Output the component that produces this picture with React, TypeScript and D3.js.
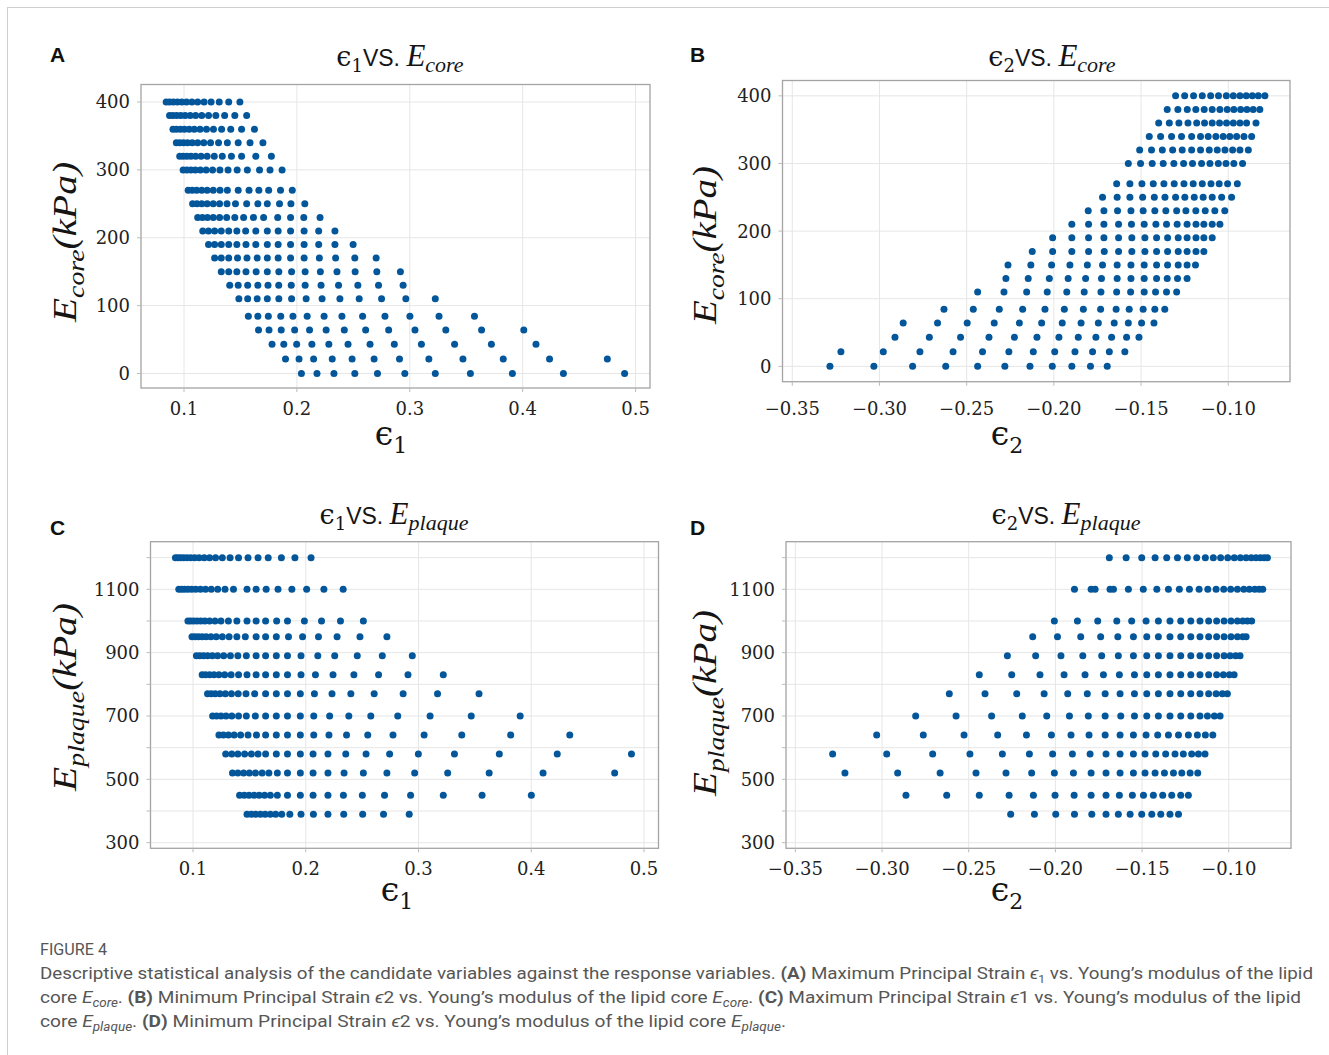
import React from 'react';
import * as d3 from 'd3';

// ---------------- DATA ----------------
const eCoreLevels = [400, 380, 360, 340, 320, 300, 270, 250, 230, 210, 190, 170, 150, 130, 110, 84.5, 64, 43, 21.5, 0];

const eps1ByCore: number[][] = [
  [0.0842, 0.0872, 0.0905, 0.0941, 0.0980, 0.1022, 0.1070, 0.1121, 0.1178, 0.1240, 0.1312, 0.1396, 0.1495],
  [0.0872, 0.0902, 0.0935, 0.0971, 0.1010, 0.1055, 0.1103, 0.1157, 0.1217, 0.1282, 0.1360, 0.1450, 0.1555],
  [0.0902, 0.0932, 0.0968, 0.1004, 0.1046, 0.1091, 0.1142, 0.1199, 0.1261, 0.1333, 0.1414, 0.1510, 0.1624],
  [0.0932, 0.0962, 0.0995, 0.1031, 0.1073, 0.1121, 0.1175, 0.1235, 0.1306, 0.1384, 0.1480, 0.1585, 0.1699],
  [0.0962, 0.0992, 0.1025, 0.1061, 0.1103, 0.1151, 0.1205, 0.1268, 0.1339, 0.1420, 0.1510, 0.1636, 0.1774],
  [0.0992, 0.1025, 0.1061, 0.1100, 0.1145, 0.1196, 0.1253, 0.1318, 0.1390, 0.1471, 0.1561, 0.1669, 0.1762, 0.1869],
  [0.1037, 0.1073, 0.1112, 0.1157, 0.1205, 0.1259, 0.1319, 0.1384, 0.1480, 0.1576, 0.1663, 0.1750, 0.1855, 0.1959],
  [0.1076, 0.1115, 0.1157, 0.1205, 0.1259, 0.1315, 0.1381, 0.1456, 0.1555, 0.1654, 0.1738, 0.1846, 0.1947, 0.2070],
  [0.1121, 0.1163, 0.1208, 0.1259, 0.1315, 0.1378, 0.1450, 0.1528, 0.1615, 0.1705, 0.1830, 0.1944, 0.2061, 0.2205],
  [0.1166, 0.1217, 0.1271, 0.1330, 0.1396, 0.1468, 0.1546, 0.1636, 0.1738, 0.1834, 0.1944, 0.2064, 0.2193, 0.2337],
  [0.1217, 0.1271, 0.1330, 0.1396, 0.1468, 0.1549, 0.1636, 0.1738, 0.1834, 0.1944, 0.2064, 0.2193, 0.2337, 0.2498],
  [0.1271, 0.1330, 0.1396, 0.1474, 0.1558, 0.1648, 0.1738, 0.1834, 0.1944, 0.2064, 0.2199, 0.2343, 0.2513, 0.2702],
  [0.1330, 0.1396, 0.1468, 0.1549, 0.1639, 0.1738, 0.1840, 0.1953, 0.2073, 0.2208, 0.2355, 0.2516, 0.2708, 0.2917],
  [0.1405, 0.1480, 0.1564, 0.1654, 0.1744, 0.1839, 0.1950, 0.2073, 0.2214, 0.2369, 0.2540, 0.2723, 0.2941],
  [0.1486, 0.1564, 0.1648, 0.1738, 0.1840, 0.1953, 0.2082, 0.2223, 0.2381, 0.2552, 0.2750, 0.2965, 0.3226],
  [0.1570, 0.1654, 0.1747, 0.1857, 0.1965, 0.2091, 0.2241, 0.2399, 0.2582, 0.2780, 0.3001, 0.3259, 0.3573],
  [0.1660, 0.1753, 0.1861, 0.1980, 0.2112, 0.2259, 0.2420, 0.2609, 0.2813, 0.3046, 0.3319, 0.3636, 0.4010],
  [0.1780, 0.1884, 0.1998, 0.2133, 0.2283, 0.2453, 0.2648, 0.2863, 0.3103, 0.3397, 0.3723, 0.4118],
  [0.1899, 0.2019, 0.2148, 0.2313, 0.2489, 0.2684, 0.2909, 0.3169, 0.3471, 0.3828, 0.4238, 0.4750],
  [0.2040, 0.2178, 0.2328, 0.2513, 0.2714, 0.2956, 0.3226, 0.3537, 0.3909, 0.4361, 0.4903],
];

const eps2ByCore: number[][] = [
  [-0.1302, -0.1250, -0.1199, -0.1149, -0.1101, -0.1056, -0.1011, -0.0971, -0.0933, -0.0897, -0.0862, -0.0828, -0.0790],
  [-0.1350, -0.1289, -0.1235, -0.1186, -0.1138, -0.1092, -0.1048, -0.1006, -0.0968, -0.0929, -0.0893, -0.0857, -0.0819],
  [-0.1399, -0.1338, -0.1283, -0.1231, -0.1181, -0.1136, -0.1092, -0.1050, -0.1010, -0.0971, -0.0933, -0.0895, -0.0841],
  [-0.1453, -0.1388, -0.1325, -0.1268, -0.1210, -0.1159, -0.1115, -0.1071, -0.1029, -0.0991, -0.0952, -0.0910, -0.0866],
  [-0.1508, -0.1440, -0.1378, -0.1319, -0.1264, -0.1210, -0.1159, -0.1109, -0.1063, -0.1019, -0.0975, -0.0933, -0.0885],
  [-0.1573, -0.1503, -0.1436, -0.1373, -0.1312, -0.1256, -0.1205, -0.1153, -0.1105, -0.1057, -0.1013, -0.0968, -0.0918],
  [-0.1640, -0.1564, -0.1495, -0.1430, -0.1369, -0.1310, -0.1254, -0.1201, -0.1149, -0.1099, -0.1052, -0.1004, -0.0948],
  [-0.1721, -0.1637, -0.1564, -0.1491, -0.1424, -0.1363, -0.1302, -0.1249, -0.1195, -0.1144, -0.1092, -0.1038, -0.0981],
  [-0.1803, -0.1713, -0.1635, -0.1558, -0.1488, -0.1421, -0.1358, -0.1296, -0.1243, -0.1186, -0.1132, -0.1077, -0.1020],
  [-0.1897, -0.1801, -0.1713, -0.1629, -0.1555, -0.1482, -0.1415, -0.1354, -0.1293, -0.1236, -0.1185, -0.1140, -0.1092, -0.1048],
  [-0.2007, -0.1897, -0.1801, -0.1713, -0.1629, -0.1553, -0.1478, -0.1411, -0.1348, -0.1287, -0.1236, -0.1185, -0.1140, -0.1092],
  [-0.2124, -0.2007, -0.1897, -0.1801, -0.1711, -0.1629, -0.1553, -0.1478, -0.1411, -0.1348, -0.1287, -0.1236, -0.1185, -0.1140],
  [-0.2263, -0.2132, -0.2013, -0.1908, -0.1808, -0.1721, -0.1637, -0.1558, -0.1482, -0.1411, -0.1348, -0.1287, -0.1236, -0.1188],
  [-0.2275, -0.2147, -0.2026, -0.1918, -0.1818, -0.1727, -0.1637, -0.1558, -0.1482, -0.1411, -0.1350, -0.1291, -0.1236],
  [-0.2437, -0.2286, -0.2156, -0.2038, -0.1926, -0.1826, -0.1730, -0.1640, -0.1560, -0.1482, -0.1417, -0.1354, -0.1296],
  [-0.2630, -0.2462, -0.2313, -0.2179, -0.2051, -0.1940, -0.1831, -0.1732, -0.1643, -0.1568, -0.1488, -0.1421, -0.1364],
  [-0.2864, -0.2667, -0.2497, -0.2342, -0.2198, -0.2070, -0.1952, -0.1844, -0.1745, -0.1654, -0.1573, -0.1497, -0.1426],
  [-0.2911, -0.2714, -0.2535, -0.2372, -0.2226, -0.2097, -0.1971, -0.1860, -0.1759, -0.1669, -0.1583, -0.1512],
  [-0.3221, -0.2978, -0.2768, -0.2578, -0.2409, -0.2258, -0.2118, -0.1995, -0.1879, -0.1778, -0.1682, -0.1593],
  [-0.3284, -0.3032, -0.2810, -0.2620, -0.2437, -0.2281, -0.2137, -0.2009, -0.1897, -0.1790, -0.1694],
];

const ePlaqueLevels = [1200, 1100, 1000, 950, 890, 830, 770, 700, 640, 580, 520, 450, 390];

const eps1ByPlaque: number[][] = [
  [0.0844, 0.0865, 0.0889, 0.0916, 0.0946, 0.0979, 0.1015, 0.1054, 0.1099, 0.1147, 0.1200, 0.1260, 0.1329, 0.1404, 0.1488, 0.1577, 0.1667, 0.1784, 0.1904, 0.2047],
  [0.0874, 0.0898, 0.0925, 0.0955, 0.0988, 0.1024, 0.1066, 0.1111, 0.1162, 0.1219, 0.1284, 0.1359, 0.1479, 0.1560, 0.1649, 0.1754, 0.1877, 0.2008, 0.2161, 0.2332],
  [0.0955, 0.0979, 0.1006, 0.1036, 0.1069, 0.1105, 0.1147, 0.1195, 0.1248, 0.1314, 0.1389, 0.1479, 0.1560, 0.1644, 0.1742, 0.1838, 0.1988, 0.2140, 0.2308, 0.2511],
  [0.0991, 0.1018, 0.1048, 0.1081, 0.1117, 0.1159, 0.1206, 0.1260, 0.1320, 0.1389, 0.1464, 0.1560, 0.1644, 0.1739, 0.1847, 0.1972, 0.2113, 0.2278, 0.2481, 0.2720],
  [0.1030, 0.1060, 0.1093, 0.1129, 0.1171, 0.1218, 0.1272, 0.1332, 0.1398, 0.1473, 0.1560, 0.1644, 0.1739, 0.1838, 0.1958, 0.2107, 0.2257, 0.2457, 0.2679, 0.2945],
  [0.1081, 0.1111, 0.1147, 0.1186, 0.1230, 0.1281, 0.1338, 0.1404, 0.1479, 0.1560, 0.1644, 0.1739, 0.1838, 0.1958, 0.2086, 0.2242, 0.2427, 0.2646, 0.2907, 0.3220],
  [0.1129, 0.1162, 0.1197, 0.1239, 0.1287, 0.1341, 0.1401, 0.1470, 0.1547, 0.1644, 0.1739, 0.1838, 0.1952, 0.2077, 0.2233, 0.2400, 0.2607, 0.2864, 0.3169, 0.3537],
  [0.1174, 0.1209, 0.1248, 0.1293, 0.1344, 0.1404, 0.1473, 0.1553, 0.1644, 0.1739, 0.1838, 0.1952, 0.2071, 0.2212, 0.2382, 0.2577, 0.2816, 0.3103, 0.3468, 0.3902],
  [0.1230, 0.1269, 0.1314, 0.1365, 0.1422, 0.1488, 0.1563, 0.1644, 0.1739, 0.1838, 0.1952, 0.2071, 0.2206, 0.2362, 0.2550, 0.2774, 0.3050, 0.3384, 0.3818, 0.4342],
  [0.1290, 0.1344, 0.1398, 0.1458, 0.1518, 0.1577, 0.1644, 0.1739, 0.1838, 0.1952, 0.2065, 0.2197, 0.2355, 0.2535, 0.2744, 0.2999, 0.3319, 0.3717, 0.4231, 0.4889],
  [0.1350, 0.1398, 0.1449, 0.1500, 0.1554, 0.1613, 0.1673, 0.1748, 0.1838, 0.1952, 0.2065, 0.2197, 0.2340, 0.2511, 0.2720, 0.2966, 0.3259, 0.3627, 0.4105, 0.4740],
  [0.1413, 0.1455, 0.1497, 0.1542, 0.1587, 0.1635, 0.1686, 0.1748, 0.1838, 0.1952, 0.2065, 0.2197, 0.2334, 0.2502, 0.2699, 0.2930, 0.3220, 0.3564, 0.4001],
  [0.1479, 0.1518, 0.1556, 0.1598, 0.1640, 0.1686, 0.1733, 0.1787, 0.1859, 0.1958, 0.2068, 0.2197, 0.2337, 0.2505, 0.2690, 0.2918],
];

const eps2ByPlaque: number[][] = [
  [-0.1689, -0.1592, -0.1502, -0.1425, -0.1358, -0.1296, -0.1239, -0.1185, -0.1135, -0.1089, -0.1047, -0.1006, -0.0968, -0.0933, -0.0900, -0.0870, -0.0843, -0.0818, -0.0796, -0.0777],
  [-0.1890, -0.1794, -0.1771, -0.1685, -0.1665, -0.1579, -0.1493, -0.1415, -0.1348, -0.1285, -0.1227, -0.1171, -0.1121, -0.1073, -0.1029, -0.0989, -0.0950, -0.0913, -0.0881, -0.0850, -0.0825, -0.0804],
  [-0.2006, -0.1873, -0.1756, -0.1646, -0.1560, -0.1477, -0.1406, -0.1339, -0.1277, -0.1219, -0.1166, -0.1116, -0.1070, -0.1027, -0.0987, -0.0950, -0.0919, -0.0893, -0.0868],
  [-0.2131, -0.1988, -0.1854, -0.1739, -0.1640, -0.1550, -0.1473, -0.1406, -0.1339, -0.1277, -0.1219, -0.1166, -0.1116, -0.1070, -0.1027, -0.0987, -0.0950, -0.0919, -0.0900],
  [-0.2277, -0.2114, -0.1968, -0.1842, -0.1733, -0.1637, -0.1550, -0.1473, -0.1406, -0.1339, -0.1277, -0.1219, -0.1166, -0.1116, -0.1070, -0.1027, -0.0992, -0.0960, -0.0935],
  [-0.2439, -0.2252, -0.2089, -0.1950, -0.1829, -0.1723, -0.1631, -0.1544, -0.1473, -0.1406, -0.1339, -0.1277, -0.1219, -0.1166, -0.1116, -0.1070, -0.1031, -0.0996, -0.0969],
  [-0.2612, -0.2406, -0.2223, -0.2065, -0.1929, -0.1816, -0.1713, -0.1627, -0.1544, -0.1473, -0.1406, -0.1339, -0.1277, -0.1219, -0.1166, -0.1116, -0.1073, -0.1037, -0.1008],
  [-0.2806, -0.2573, -0.2368, -0.2191, -0.2050, -0.1919, -0.1810, -0.1713, -0.1623, -0.1544, -0.1473, -0.1406, -0.1339, -0.1277, -0.1219, -0.1166, -0.1123, -0.1083, -0.1050],
  [-0.3031, -0.2762, -0.2527, -0.2333, -0.2167, -0.2023, -0.1910, -0.1806, -0.1713, -0.1627, -0.1550, -0.1477, -0.1410, -0.1348, -0.1290, -0.1233, -0.1181, -0.1135, -0.1092],
  [-0.3285, -0.2973, -0.2708, -0.2493, -0.2306, -0.2150, -0.2016, -0.1902, -0.1800, -0.1708, -0.1627, -0.1550, -0.1483, -0.1421, -0.1364, -0.1310, -0.1262, -0.1214, -0.1175, -0.1137],
  [-0.3214, -0.2910, -0.2665, -0.2458, -0.2285, -0.2137, -0.2006, -0.1896, -0.1794, -0.1708, -0.1627, -0.1550, -0.1483, -0.1425, -0.1371, -0.1319, -0.1271, -0.1223, -0.1179],
  [-0.2862, -0.2627, -0.2439, -0.2267, -0.2127, -0.2002, -0.1892, -0.1794, -0.1708, -0.1631, -0.1556, -0.1492, -0.1435, -0.1381, -0.1329, -0.1277, -0.1233],
  [-0.2258, -0.2121, -0.1998, -0.1890, -0.1790, -0.1708, -0.1637, -0.1569, -0.1502, -0.1444, -0.1392, -0.1339, -0.1290],
];

const eps1Ticks = [0.1, 0.2, 0.3, 0.4, 0.5];
const eps2Ticks = [-0.35, -0.3, -0.25, -0.2, -0.15, -0.1];
const coreTicks = [0, 100, 200, 300, 400];
const plaqueTicks = [300, 500, 700, 900, 1100];
const plaqueGrid = [300, 400, 500, 600, 700, 800, 900, 1000, 1100, 1200];

const captionLines = [
  'Descriptive statistical analysis of the candidate variables against the response variables.',
  'Maximum Principal Strain',
  'vs. Young\u2019s modulus of the lipid',
];

// ---------------- STYLE ----------------
const DOT = '#03569a';
const GRID = '#e6e6e6';
const FRAME = '#a4a4a4';
const TICKFONT = 'DejaVu Serif, serif';
const MATHFONT = 'Liberation Serif, DejaVu Serif, serif';

type PanelCfg = {
  left: number; right: number; top: number; bottom: number;
  xDomain: [number, number]; yDomain: [number, number];
  xTicks: number[]; xFmt: (v: number) => string;
  yTicks: number[]; yGrid: number[];
  levels: number[]; values: number[][];
  xLabelBase: number;
};

function Panel({ c }: { c: PanelCfg }) {
  const x = d3.scaleLinear().domain(c.xDomain).range([c.left, c.right]);
  const y = d3.scaleLinear().domain(c.yDomain).range([c.bottom, c.top]);
  return (
    <g>
      <rect x={c.left} y={c.top} width={c.right - c.left} height={c.bottom - c.top} fill="#fff" />
      {c.xTicks.map((t) => (
        <line key={'gx' + t} x1={x(t)} x2={x(t)} y1={c.top} y2={c.bottom} stroke={GRID} strokeWidth={1} />
      ))}
      {c.yGrid.map((t) => (
        <line key={'gy' + t} x1={c.left} x2={c.right} y1={y(t)} y2={y(t)} stroke={GRID} strokeWidth={1} />
      ))}
      {c.values.map((row, i) =>
        row.map((v, j) => (
          <circle key={i + '-' + j} cx={x(v)} cy={y(c.levels[i])} r={3.5} fill={DOT} />
        ))
      )}
      <rect x={c.left} y={c.top} width={c.right - c.left} height={c.bottom - c.top} fill="none" stroke={FRAME} strokeWidth={1.3} />
      {c.xTicks.map((t) => (
        <g key={'tx' + t}>
          <line x1={x(t)} x2={x(t)} y1={c.bottom} y2={c.bottom + 4} stroke="#bbb" />
          <text x={x(t)} y={c.xLabelBase} textAnchor="middle" fontFamily={TICKFONT} fontSize={18} fill="#222">
            {c.xFmt(t)}
          </text>
        </g>
      ))}
      {c.yGrid.map((t) => (
        <line key={'ty' + t} x1={c.left - 4} x2={c.left} y1={y(t)} y2={y(t)} stroke="#bbb" />
      ))}
      {c.yTicks.map((t) => (
        <text key={'ly' + t} x={c.left - 11} y={y(t)} dy="0.36em" textAnchor="end" fontFamily={TICKFONT} fontSize={18} fill="#222">
          {t}
        </text>
      ))}
    </g>
  );
}

function Title({ cx, y, sub, name }: { cx: number; y: number; sub: string; name: string }) {
  return (
    <text x={cx} y={y} textAnchor="middle" fill="#151515">
      <tspan fontFamily="DejaVu Serif, serif" fontSize={27}>ϵ</tspan>
      <tspan fontFamily="DejaVu Serif, serif" fontSize={18} dy={6}>{sub}</tspan>
      <tspan fontFamily="Liberation Sans, Arial, sans-serif" fontSize={23} dy={-6}>VS. </tspan>
      <tspan fontFamily={MATHFONT} fontStyle="italic" fontSize={31}>E</tspan>
      <tspan fontFamily={MATHFONT} fontStyle="italic" fontSize={22} dy={6}>{name}</tspan>
    </text>
  );
}

function YLabel({ x, y, name, len }: { x: number; y: number; name: string; len: number }) {
  return (
    <text transform={`translate(${x},${y}) rotate(-90)`} textAnchor="middle" fill="#151515" fontFamily={MATHFONT} fontStyle="italic" textLength={len} lengthAdjust="spacingAndGlyphs">
      <tspan fontSize={34}>E</tspan>
      <tspan fontSize={24} dy={8}>{name}</tspan>
      <tspan fontSize={34} dy={-8}>(kPa)</tspan>
    </text>
  );
}

function XLabel({ x, y, sub }: { x: number; y: number; sub: string }) {
  return (
    <text x={x} y={y} textAnchor="middle" fill="#151515" fontFamily="DejaVu Serif, serif">
      <tspan fontSize={33}>ϵ</tspan>
      <tspan fontSize={22} dy={8}>{sub}</tspan>
    </text>
  );
}

const fmt1 = d3.format('.1f');
const fmt2 = d3.format('.2f');

const panels: PanelCfg[] = [
  {
    left: 141, right: 650, top: 84.5, bottom: 388,
    xDomain: [0.0619, 0.5128], yDomain: [-21.4, 425.8],
    xTicks: eps1Ticks, xFmt: fmt1, yTicks: coreTicks, yGrid: coreTicks,
    levels: eCoreLevels, values: eps1ByCore, xLabelBase: 415,
  },
  {
    left: 782.5, right: 1290, top: 80.5, bottom: 381.7,
    xDomain: [-0.3556, -0.0646], yDomain: [-22.7, 422.7],
    xTicks: eps2Ticks, xFmt: fmt2, yTicks: coreTicks, yGrid: coreTicks,
    levels: eCoreLevels, values: eps2ByCore, xLabelBase: 415,
  },
  {
    left: 150.5, right: 658.5, top: 541.7, bottom: 848.3,
    xDomain: [0.0623, 0.5129], yDomain: [282.3, 1250.3],
    xTicks: eps1Ticks, xFmt: fmt1, yTicks: plaqueTicks, yGrid: plaqueGrid,
    levels: ePlaqueLevels, values: eps1ByPlaque, xLabelBase: 875,
  },
  {
    left: 786, right: 1291, top: 541.7, bottom: 848.3,
    xDomain: [-0.3554, -0.0641], yDomain: [282.3, 1250.3],
    xTicks: eps2Ticks, xFmt: fmt2, yTicks: plaqueTicks, yGrid: plaqueGrid,
    levels: ePlaqueLevels, values: eps2ByPlaque, xLabelBase: 875,
  },
];

const CAP = '#565656';
const CAPFONT = "'Liberation Sans Narrow', 'Roboto', 'Liberation Sans', sans-serif";

export default function App() {
  return (
    <svg width={1329} height={1055} style={{ position: 'absolute', left: 0, top: 0, background: '#fff' }}>
      <rect x={0} y={0} width={1329} height={1055} fill="#fff" />
      <rect x={7.5} y={7.5} width={1340} height={1070} fill="none" stroke="#cfcfcf" strokeWidth={1} />

      {panels.map((p, i) => <Panel key={i} c={p} />)}

      <g fontFamily="Liberation Sans, Arial, sans-serif" fontWeight="bold" fontSize={21} fill="#111">
        <text x={50} y={62}>A</text>
        <text x={690} y={62}>B</text>
        <text x={50} y={535}>C</text>
        <text x={690} y={535}>D</text>
      </g>

      <Title cx={400} y={66} sub="1" name="core" />
      <Title cx={1052} y={66} sub="2" name="core" />
      <Title cx={394} y={524} sub="1" name="plaque" />
      <Title cx={1066} y={524} sub="2" name="plaque" />

      <YLabel x={76} y={242} name="core" len={160} />
      <YLabel x={716} y={245} name="core" len={158} />
      <YLabel x={76} y={697} name="plaque" len={188} />
      <YLabel x={716} y={703} name="plaque" len={186} />

      <XLabel x={391} y={445} sub="1" />
      <XLabel x={1007} y={445} sub="2" />
      <XLabel x={397} y={901} sub="1" />
      <XLabel x={1007} y={901} sub="2" />

      <text x={40} y={955} fontFamily={CAPFONT} fontSize={17} fill={CAP} textLength={67} lengthAdjust="spacingAndGlyphs">FIGURE 4</text>

      <text x={40} y={979} fontFamily={CAPFONT} fontSize={17} fill={CAP} textLength={1273} lengthAdjust="spacingAndGlyphs">
        {captionLines[0]} <tspan fontWeight="bold">(A)</tspan> {captionLines[1]} <tspan fontStyle="italic">ϵ</tspan><tspan fontSize={11} dy={4}>1</tspan><tspan dy={-4}> {captionLines[2]}</tspan>
      </text>
      <text x={40} y={1003} fontFamily={CAPFONT} fontSize={17} fill={CAP} textLength={1261} lengthAdjust="spacingAndGlyphs">
        core <tspan fontStyle="italic">E</tspan><tspan fontStyle="italic" fontSize={12} dy={4}>core</tspan><tspan dy={-4}>. </tspan><tspan fontWeight="bold">(B)</tspan> Minimum Principal Strain <tspan fontStyle="italic">ϵ</tspan>2 vs. Young’s modulus of the lipid core <tspan fontStyle="italic">E</tspan><tspan fontStyle="italic" fontSize={12} dy={4}>core</tspan><tspan dy={-4}>. </tspan><tspan fontWeight="bold">(C)</tspan> {captionLines[1]} <tspan fontStyle="italic">ϵ</tspan>1 {captionLines[2]}
      </text>
      <text x={40} y={1027} fontFamily={CAPFONT} fontSize={17} fill={CAP} textLength={746} lengthAdjust="spacingAndGlyphs">
        core <tspan fontStyle="italic">E</tspan><tspan fontStyle="italic" fontSize={12} dy={4}>plaque</tspan><tspan dy={-4}>. </tspan><tspan fontWeight="bold">(D)</tspan> Minimum Principal Strain <tspan fontStyle="italic">ϵ</tspan>2 vs. Young’s modulus of the lipid core <tspan fontStyle="italic">E</tspan><tspan fontStyle="italic" fontSize={12} dy={4}>plaque</tspan><tspan dy={-4}>.</tspan>
      </text>
    </svg>
  );
}
